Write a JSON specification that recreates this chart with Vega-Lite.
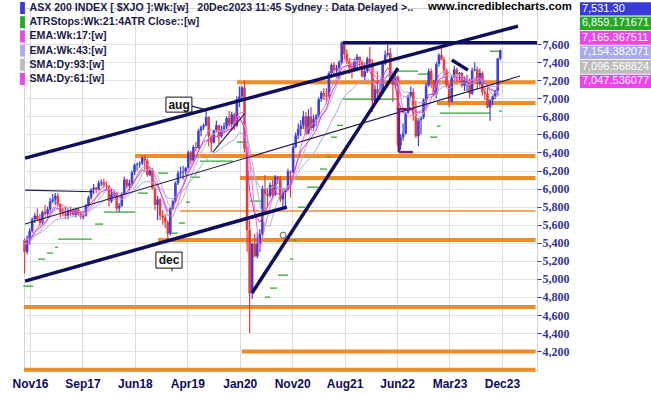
{
"$schema": "https://vega.github.io/schema/vega-lite/v6.json",
"width": 513,
"height": 363,
"autosize": {"type": "none"},
"padding": {"left": 24, "top": 8, "right": 114, "bottom": 24},
"background": "#ffffff",
"config": {"view": {"stroke": "#d4d4d4", "strokeWidth": 1}},
"resolve": {"axis": {"x": "independent", "y": "independent"}},
"datasets": {
"candles": [
{"d":"2016-10-31","o":5430,"h":5450,"l":5060,"c":5300},
{"d":"2016-11-14","o":5300,"h":5480,"l":5270,"c":5440},
{"d":"2016-11-28","o":5440,"h":5560,"l":5380,"c":5530},
{"d":"2016-12-12","o":5530,"h":5680,"l":5510,"c":5660},
{"d":"2016-12-26","o":5660,"h":5730,"l":5620,"c":5700},
{"d":"2017-01-09","o":5700,"h":5780,"l":5640,"c":5660},
{"d":"2017-01-23","o":5660,"h":5720,"l":5580,"c":5620},
{"d":"2017-02-06","o":5620,"h":5760,"l":5600,"c":5740},
{"d":"2017-02-20","o":5740,"h":5820,"l":5700,"c":5720},
{"d":"2017-03-06","o":5720,"h":5800,"l":5680,"c":5770},
{"d":"2017-03-20","o":5770,"h":5900,"l":5740,"c":5860},
{"d":"2017-04-03","o":5860,"h":5940,"l":5840,"c":5880},
{"d":"2017-04-17","o":5880,"h":5950,"l":5820,"c":5920},
{"d":"2017-05-01","o":5920,"h":5950,"l":5800,"c":5830},
{"d":"2017-05-15","o":5830,"h":5840,"l":5680,"c":5740},
{"d":"2017-05-29","o":5740,"h":5800,"l":5690,"c":5720},
{"d":"2017-06-12","o":5720,"h":5800,"l":5660,"c":5700},
{"d":"2017-06-26","o":5700,"h":5780,"l":5660,"c":5760},
{"d":"2017-07-10","o":5760,"h":5800,"l":5700,"c":5740},
{"d":"2017-07-24","o":5740,"h":5780,"l":5700,"c":5710},
{"d":"2017-08-07","o":5710,"h":5790,"l":5680,"c":5770},
{"d":"2017-08-21","o":5770,"h":5790,"l":5700,"c":5720},
{"d":"2017-09-04","o":5720,"h":5750,"l":5660,"c":5690},
{"d":"2017-09-18","o":5690,"h":5720,"l":5660,"c":5700},
{"d":"2017-10-02","o":5700,"h":5830,"l":5690,"c":5810},
{"d":"2017-10-16","o":5810,"h":5920,"l":5800,"c":5900},
{"d":"2017-10-30","o":5900,"h":6000,"l":5880,"c":5990},
{"d":"2017-11-13","o":5990,"h":6050,"l":5940,"c":6010},
{"d":"2017-11-27","o":6010,"h":6020,"l":5950,"c":5990},
{"d":"2017-12-11","o":5990,"h":6090,"l":5980,"c":6060},
{"d":"2017-12-25","o":6060,"h":6100,"l":6030,"c":6070},
{"d":"2018-01-08","o":6070,"h":6110,"l":6020,"c":6040},
{"d":"2018-01-22","o":6040,"h":6080,"l":5980,"c":6030},
{"d":"2018-02-05","o":6030,"h":6040,"l":5800,"c":5860},
{"d":"2018-02-19","o":5860,"h":6000,"l":5840,"c":5940},
{"d":"2018-03-05","o":5940,"h":5980,"l":5890,"c":5950},
{"d":"2018-03-19","o":5950,"h":5960,"l":5750,"c":5780},
{"d":"2018-04-02","o":5780,"h":5840,"l":5740,"c":5810},
{"d":"2018-04-16","o":5810,"h":5960,"l":5800,"c":5940},
{"d":"2018-04-30","o":5940,"h":6130,"l":5930,"c":6100},
{"d":"2018-05-14","o":6100,"h":6110,"l":6000,"c":6030},
{"d":"2018-05-28","o":6030,"h":6100,"l":5980,"c":6060},
{"d":"2018-06-11","o":6060,"h":6200,"l":6040,"c":6180},
{"d":"2018-06-25","o":6180,"h":6280,"l":6150,"c":6260},
{"d":"2018-07-09","o":6260,"h":6290,"l":6200,"c":6270},
{"d":"2018-07-23","o":6270,"h":6300,"l":6230,"c":6280},
{"d":"2018-08-06","o":6280,"h":6360,"l":6260,"c":6340},
{"d":"2018-08-20","o":6340,"h":6370,"l":6210,"c":6310},
{"d":"2018-09-03","o":6310,"h":6330,"l":6130,"c":6150},
{"d":"2018-09-17","o":6150,"h":6240,"l":6140,"c":6200},
{"d":"2018-10-01","o":6200,"h":6230,"l":5990,"c":6000},
{"d":"2018-10-15","o":6000,"h":6020,"l":5760,"c":5820},
{"d":"2018-10-29","o":5820,"h":5920,"l":5650,"c":5880},
{"d":"2018-11-12","o":5880,"h":5900,"l":5650,"c":5700},
{"d":"2018-11-26","o":5700,"h":5760,"l":5600,"c":5680},
{"d":"2018-12-10","o":5680,"h":5720,"l":5560,"c":5630},
{"d":"2018-12-24","o":5630,"h":5650,"l":5410,"c":5500},
{"d":"2019-01-07","o":5500,"h":5800,"l":5480,"c":5780},
{"d":"2019-01-21","o":5780,"h":5880,"l":5760,"c":5860},
{"d":"2019-02-04","o":5860,"h":6080,"l":5840,"c":6060},
{"d":"2019-02-18","o":6060,"h":6200,"l":6040,"c":6170},
{"d":"2019-03-04","o":6170,"h":6240,"l":6130,"c":6180},
{"d":"2019-03-18","o":6180,"h":6250,"l":6100,"c":6190},
{"d":"2019-04-01","o":6190,"h":6240,"l":6150,"c":6230},
{"d":"2019-04-15","o":6230,"h":6420,"l":6220,"c":6400},
{"d":"2019-04-29","o":6400,"h":6420,"l":6270,"c":6310},
{"d":"2019-05-13","o":6310,"h":6480,"l":6290,"c":6460},
{"d":"2019-05-27","o":6460,"h":6520,"l":6410,"c":6450},
{"d":"2019-06-10","o":6450,"h":6660,"l":6440,"c":6640},
{"d":"2019-06-24","o":6640,"h":6700,"l":6580,"c":6680},
{"d":"2019-07-08","o":6680,"h":6720,"l":6650,"c":6700},
{"d":"2019-07-22","o":6700,"h":6880,"l":6690,"c":6790},
{"d":"2019-08-05","o":6790,"h":6800,"l":6470,"c":6580},
{"d":"2019-08-19","o":6580,"h":6600,"l":6400,"c":6510},
{"d":"2019-09-02","o":6510,"h":6650,"l":6500,"c":6640},
{"d":"2019-09-16","o":6640,"h":6750,"l":6620,"c":6700},
{"d":"2019-09-30","o":6700,"h":6710,"l":6490,"c":6580},
{"d":"2019-10-14","o":6580,"h":6700,"l":6560,"c":6660},
{"d":"2019-10-28","o":6660,"h":6730,"l":6620,"c":6690},
{"d":"2019-11-11","o":6690,"h":6800,"l":6660,"c":6780},
{"d":"2019-11-25","o":6780,"h":6860,"l":6690,"c":6710},
{"d":"2019-12-09","o":6710,"h":6850,"l":6640,"c":6820},
{"d":"2019-12-23","o":6820,"h":6840,"l":6650,"c":6700},
{"d":"2020-01-06","o":6700,"h":7020,"l":6680,"c":6990},
{"d":"2020-01-20","o":6990,"h":7130,"l":6900,"c":7020},
{"d":"2020-02-03","o":7020,"h":7140,"l":6960,"c":7120},
{"d":"2020-02-17","o":7120,"h":7200,"l":6400,"c":6440},
{"d":"2020-03-02","o":6440,"h":6470,"l":5300,"c":5540},
{"d":"2020-03-16","o":5540,"h":5650,"l":4400,"c":4840},
{"d":"2020-03-30","o":4840,"h":5400,"l":4780,"c":5390},
{"d":"2020-04-13","o":5390,"h":5500,"l":5240,"c":5250},
{"d":"2020-04-27","o":5250,"h":5520,"l":5230,"c":5390},
{"d":"2020-05-11","o":5390,"h":5550,"l":5300,"c":5500},
{"d":"2020-05-25","o":5500,"h":6030,"l":5480,"c":6000},
{"d":"2020-06-08","o":6000,"h":6150,"l":5750,"c":5940},
{"d":"2020-06-22","o":5940,"h":6000,"l":5790,"c":5920},
{"d":"2020-07-06","o":5920,"h":6070,"l":5900,"c":6040},
{"d":"2020-07-20","o":6040,"h":6100,"l":5900,"c":5930},
{"d":"2020-08-03","o":5930,"h":6150,"l":5920,"c":6130},
{"d":"2020-08-17","o":6130,"h":6140,"l":6050,"c":6110},
{"d":"2020-08-31","o":6110,"h":6140,"l":5850,"c":5880},
{"d":"2020-09-14","o":5880,"h":5990,"l":5800,"c":5960},
{"d":"2020-09-28","o":5960,"h":6000,"l":5770,"c":5990},
{"d":"2020-10-12","o":5990,"h":6220,"l":5980,"c":6190},
{"d":"2020-10-26","o":6190,"h":6200,"l":5900,"c":6180},
{"d":"2020-11-09","o":6180,"h":6500,"l":6170,"c":6460},
{"d":"2020-11-23","o":6460,"h":6620,"l":6450,"c":6590},
{"d":"2020-12-07","o":6590,"h":6720,"l":6550,"c":6660},
{"d":"2020-12-21","o":6660,"h":6760,"l":6580,"c":6700},
{"d":"2021-01-04","o":6700,"h":6860,"l":6660,"c":6800},
{"d":"2021-01-18","o":6800,"h":6850,"l":6590,"c":6610},
{"d":"2021-02-01","o":6610,"h":6880,"l":6600,"c":6800},
{"d":"2021-02-15","o":6800,"h":6900,"l":6640,"c":6670},
{"d":"2021-03-01","o":6670,"h":6820,"l":6640,"c":6770},
{"d":"2021-03-15","o":6770,"h":6830,"l":6690,"c":6800},
{"d":"2021-03-29","o":6800,"h":7010,"l":6780,"c":6990},
{"d":"2021-04-12","o":6990,"h":7080,"l":6960,"c":7060},
{"d":"2021-04-26","o":7060,"h":7110,"l":6980,"c":7030},
{"d":"2021-05-10","o":7030,"h":7110,"l":6940,"c":7020},
{"d":"2021-05-24","o":7020,"h":7300,"l":7000,"c":7280},
{"d":"2021-06-07","o":7280,"h":7390,"l":7260,"c":7370},
{"d":"2021-06-21","o":7370,"h":7400,"l":7250,"c":7310},
{"d":"2021-07-05","o":7310,"h":7370,"l":7220,"c":7330},
{"d":"2021-07-19","o":7330,"h":7420,"l":7210,"c":7400},
{"d":"2021-08-02","o":7400,"h":7630,"l":7380,"c":7620},
{"d":"2021-08-16","o":7620,"h":7630,"l":7430,"c":7490},
{"d":"2021-08-30","o":7490,"h":7540,"l":7380,"c":7410},
{"d":"2021-09-13","o":7410,"h":7450,"l":7270,"c":7340},
{"d":"2021-09-27","o":7340,"h":7390,"l":7220,"c":7320},
{"d":"2021-10-11","o":7320,"h":7440,"l":7300,"c":7410},
{"d":"2021-10-25","o":7410,"h":7490,"l":7300,"c":7460},
{"d":"2021-11-08","o":7460,"h":7460,"l":7350,"c":7400},
{"d":"2021-11-22","o":7400,"h":7420,"l":7230,"c":7240},
{"d":"2021-12-06","o":7240,"h":7400,"l":7200,"c":7300},
{"d":"2021-12-20","o":7300,"h":7460,"l":7280,"c":7440},
{"d":"2022-01-03","o":7440,"h":7570,"l":7330,"c":7390},
{"d":"2022-01-17","o":7390,"h":7430,"l":6850,"c":6970},
{"d":"2022-01-31","o":6970,"h":7150,"l":6950,"c":7100},
{"d":"2022-02-14","o":7100,"h":7300,"l":6990,"c":7050},
{"d":"2022-02-28","o":7050,"h":7160,"l":6980,"c":7060},
{"d":"2022-03-14","o":7060,"h":7400,"l":7040,"c":7380},
{"d":"2022-03-28","o":7380,"h":7530,"l":7370,"c":7480},
{"d":"2022-04-11","o":7480,"h":7600,"l":7460,"c":7500},
{"d":"2022-04-25","o":7500,"h":7560,"l":7180,"c":7210},
{"d":"2022-05-09","o":7210,"h":7250,"l":6960,"c":7150},
{"d":"2022-05-23","o":7150,"h":7260,"l":7100,"c":7240},
{"d":"2022-06-06","o":7240,"h":7250,"l":6470,"c":6480},
{"d":"2022-06-20","o":6480,"h":6600,"l":6430,"c":6570},
{"d":"2022-07-04","o":6570,"h":6720,"l":6530,"c":6610},
{"d":"2022-07-18","o":6610,"h":6850,"l":6600,"c":6840},
{"d":"2022-08-01","o":6840,"h":7040,"l":6830,"c":7030},
{"d":"2022-08-15","o":7030,"h":7130,"l":7010,"c":7070},
{"d":"2022-08-29","o":7070,"h":7110,"l":6750,"c":6830},
{"d":"2022-09-12","o":6830,"h":6970,"l":6560,"c":6580},
{"d":"2022-09-26","o":6580,"h":6780,"l":6470,"c":6760},
{"d":"2022-10-10","o":6760,"h":6800,"l":6600,"c":6790},
{"d":"2022-10-24","o":6790,"h":7000,"l":6770,"c":6980},
{"d":"2022-11-07","o":6980,"h":7170,"l":6880,"c":7140},
{"d":"2022-11-21","o":7140,"h":7330,"l":7130,"c":7300},
{"d":"2022-12-05","o":7300,"h":7330,"l":7120,"c":7200},
{"d":"2022-12-19","o":7200,"h":7200,"l":7020,"c":7040},
{"d":"2023-01-02","o":7040,"h":7400,"l":7000,"c":7380},
{"d":"2023-01-16","o":7380,"h":7500,"l":7350,"c":7480},
{"d":"2023-01-30","o":7480,"h":7560,"l":7420,"c":7430},
{"d":"2023-02-13","o":7430,"h":7460,"l":7250,"c":7310},
{"d":"2023-02-27","o":7310,"h":7330,"l":7120,"c":7140},
{"d":"2023-03-13","o":7140,"h":7160,"l":6900,"c":6960},
{"d":"2023-03-27","o":6960,"h":7250,"l":6950,"c":7230},
{"d":"2023-04-10","o":7230,"h":7360,"l":7220,"c":7320},
{"d":"2023-04-24","o":7320,"h":7340,"l":7180,"c":7260},
{"d":"2023-05-08","o":7260,"h":7290,"l":7180,"c":7280},
{"d":"2023-05-22","o":7280,"h":7290,"l":7120,"c":7140},
{"d":"2023-06-05","o":7140,"h":7240,"l":7080,"c":7200},
{"d":"2023-06-19","o":7200,"h":7260,"l":7080,"c":7200},
{"d":"2023-07-03","o":7200,"h":7220,"l":7000,"c":7050},
{"d":"2023-07-17","o":7050,"h":7340,"l":7040,"c":7310},
{"d":"2023-07-31","o":7310,"h":7400,"l":7300,"c":7320},
{"d":"2023-08-14","o":7320,"h":7350,"l":7100,"c":7160},
{"d":"2023-08-28","o":7160,"h":7330,"l":7130,"c":7280},
{"d":"2023-09-11","o":7280,"h":7300,"l":7030,"c":7070},
{"d":"2023-09-25","o":7070,"h":7120,"l":6980,"c":7050},
{"d":"2023-10-09","o":7050,"h":7120,"l":6890,"c":6900},
{"d":"2023-10-23","o":6900,"h":6990,"l":6750,"c":6980},
{"d":"2023-11-06","o":6980,"h":7030,"l":6920,"c":7020},
{"d":"2023-11-20","o":7020,"h":7090,"l":6990,"c":7080},
{"d":"2023-12-04","o":7080,"h":7450,"l":7040,"c":7440},
{"d":"2023-12-18","o":7440,"h":7540,"l":7420,"c":7531}
],
"ma": [
{"d":"2016-10-31","e17":5362,"e43":5424,"s93":5389,"s61":5383},
{"d":"2016-11-28","e17":5425,"e43":5442,"s93":5408,"s61":5412},
{"d":"2016-12-26","e17":5528,"e43":5486,"s93":5470,"s61":5505},
{"d":"2017-01-23","e17":5563,"e43":5509,"s93":5523,"s61":5602},
{"d":"2017-02-20","e17":5622,"e43":5545,"s93":5597,"s61":5683},
{"d":"2017-03-20","e17":5711,"e43":5599,"s93":5696,"s61":5728},
{"d":"2017-04-17","e17":5789,"e43":5654,"s93":5763,"s61":5815},
{"d":"2017-05-15","e17":5771,"e43":5669,"s93":5787,"s61":5833},
{"d":"2017-06-12","e17":5744,"e43":5674,"s93":5793,"s61":5798},
{"d":"2017-07-10","e17":5743,"e43":5685,"s93":5794,"s61":5748},
{"d":"2017-08-07","e17":5753,"e43":5699,"s93":5766,"s61":5733},
{"d":"2017-09-04","e17":5729,"e43":5697,"s93":5728,"s61":5732},
{"d":"2017-10-02","e17":5759,"e43":5716,"s93":5733,"s61":5733},
{"d":"2017-10-30","e17":5846,"e43":5763,"s93":5781,"s61":5802},
{"d":"2017-11-27","e17":5900,"e43":5802,"s93":5842,"s61":5900},
{"d":"2017-12-25","e17":5964,"e43":5848,"s93":5913,"s61":6003},
{"d":"2018-01-22","e17":5989,"e43":5879,"s93":5989,"s61":6033},
{"d":"2018-02-19","e17":5971,"e43":5889,"s93":5999,"s61":6000},
{"d":"2018-03-19","e17":5899,"e43":5870,"s93":5969,"s61":5933},
{"d":"2018-04-16","e17":5914,"e43":5882,"s93":5936,"s61":5880},
{"d":"2018-05-14","e17":5958,"e43":5907,"s93":5938,"s61":5935},
{"d":"2018-06-11","e17":6041,"e43":5953,"s93":5977,"s61":6020},
{"d":"2018-07-09","e17":6127,"e43":6007,"s93":6048,"s61":6150},
{"d":"2018-08-06","e17":6207,"e43":6064,"s93":6162,"s61":6232},
{"d":"2018-09-03","e17":6186,"e43":6079,"s93":6209,"s61":6268},
{"d":"2018-10-01","e17":6116,"e43":6066,"s93":6221,"s61":6213},
{"d":"2018-10-29","e17":6028,"e43":6034,"s93":6139,"s61":6060},
{"d":"2018-11-26","e17":5898,"e43":5974,"s93":6009,"s61":5880},
{"d":"2018-12-24","e17":5749,"e43":5893,"s93":5840,"s61":5702},
{"d":"2019-01-21","e17":5791,"e43":5887,"s93":5761,"s61":5692},
{"d":"2019-02-18","e17":5933,"e43":5935,"s93":5807,"s61":5833},
{"d":"2019-03-18","e17":6029,"e43":5978,"s93":5894,"s61":6040},
{"d":"2019-04-15","e17":6168,"e43":6050,"s93":6041,"s61":6205},
{"d":"2019-05-13","e17":6278,"e43":6120,"s93":6207,"s61":6295},
{"d":"2019-06-10","e17":6414,"e43":6208,"s93":6337,"s61":6415},
{"d":"2019-07-08","e17":6521,"e43":6292,"s93":6451,"s61":6540},
{"d":"2019-08-05","e17":6543,"e43":6341,"s93":6557,"s61":6640},
{"d":"2019-09-02","e17":6579,"e43":6392,"s93":6606,"s61":6650},
{"d":"2019-09-30","e17":6579,"e43":6424,"s93":6647,"s61":6633},
{"d":"2019-10-28","e17":6621,"e43":6469,"s93":6650,"s61":6630},
{"d":"2019-11-25","e17":6654,"e43":6510,"s93":6650,"s61":6687},
{"d":"2019-12-23","e17":6671,"e43":6542,"s93":6698,"s61":6727},
{"d":"2020-01-20","e17":6802,"e43":6623,"s93":6772,"s61":6837},
{"d":"2020-02-17","e17":6666,"e43":6592,"s93":6697,"s61":6848},
{"d":"2020-03-16","e17":5981,"e43":6294,"s93":6464,"s61":6325},
{"d":"2020-04-13","e17":5707,"e43":6117,"s93":6143,"s61":5763},
{"d":"2020-05-11","e17":5629,"e43":6012,"s93":5832,"s61":5318},
{"d":"2020-06-08","e17":5746,"e43":6000,"s93":5588,"s61":5578},
{"d":"2020-07-06","e17":5856,"e43":6007,"s93":5586,"s61":5798},
{"d":"2020-08-03","e17":5959,"e43":6028,"s93":5789,"s61":5993},
{"d":"2020-08-31","e17":5929,"e43":6003,"s93":5939,"s61":6002},
{"d":"2020-09-28","e17":5952,"e43":6001,"s93":5989,"s61":6000},
{"d":"2020-10-26","e17":6038,"e43":6031,"s93":6047,"s61":6052},
{"d":"2020-11-23","e17":6245,"e43":6126,"s93":6166,"s61":6228},
{"d":"2020-12-21","e17":6416,"e43":6224,"s93":6290,"s61":6463},
{"d":"2021-01-18","e17":6489,"e43":6290,"s93":6464,"s61":6637},
{"d":"2021-02-15","e17":6557,"e43":6355,"s93":6608,"s61":6707},
{"d":"2021-03-15","e17":6648,"e43":6431,"s93":6711,"s61":6742},
{"d":"2021-04-12","e17":6803,"e43":6538,"s93":6800,"s61":6848},
{"d":"2021-05-10","e17":6884,"e43":6620,"s93":6861,"s61":6945},
{"d":"2021-06-07","e17":7066,"e43":6748,"s93":6999,"s61":7125},
{"d":"2021-07-05","e17":7165,"e43":6847,"s93":7132,"s61":7223},
{"d":"2021-08-02","e17":7336,"e43":6978,"s93":7269,"s61":7385},
{"d":"2021-08-30","e17":7364,"e43":7051,"s93":7359,"s61":7427},
{"d":"2021-09-27","e17":7348,"e43":7097,"s93":7399,"s61":7430},
{"d":"2021-10-25","e17":7390,"e43":7159,"s93":7420,"s61":7405},
{"d":"2021-11-22","e17":7334,"e43":7173,"s93":7410,"s61":7362},
{"d":"2021-12-20","e17":7374,"e43":7218,"s93":7369,"s61":7375},
{"d":"2022-01-17","e17":7223,"e43":7176,"s93":7326,"s61":7290},
{"d":"2022-02-14","e17":7158,"e43":7155,"s93":7261,"s61":7208},
{"d":"2022-03-14","e17":7241,"e43":7193,"s93":7214,"s61":7158},
{"d":"2022-04-11","e17":7338,"e43":7245,"s93":7263,"s61":7262},
{"d":"2022-05-09","e17":7268,"e43":7229,"s93":7211,"s61":7297},
{"d":"2022-06-06","e17":6973,"e43":7102,"s93":7172,"s61":7177},
{"d":"2022-07-04","e17":6837,"e43":7018,"s93":7069,"s61":6877},
{"d":"2022-08-01","e17":6909,"e43":7020,"s93":7070,"s61":6795},
{"d":"2022-08-29","e17":6879,"e43":6988,"s93":6869,"s61":6825},
{"d":"2022-09-26","e17":6834,"e43":6949,"s93":6752,"s61":6852},
{"d":"2022-10-24","e17":6889,"e43":6954,"s93":6832,"s61":6835},
{"d":"2022-11-21","e17":7043,"e43":7013,"s93":6942,"s61":6925},
{"d":"2022-12-19","e17":7042,"e43":7018,"s93":6958,"s61":7075},
{"d":"2023-01-16","e17":7206,"e43":7097,"s93":7119,"s61":7257},
{"d":"2023-02-13","e17":7245,"e43":7133,"s93":7251,"s61":7307},
{"d":"2023-03-13","e17":7138,"e43":7104,"s93":7249,"s61":7283},
{"d":"2023-04-10","e17":7206,"e43":7141,"s93":7254,"s61":7232},
{"d":"2023-05-08","e17":7234,"e43":7165,"s93":7268,"s61":7198},
{"d":"2023-06-05","e17":7221,"e43":7171,"s93":7204,"s61":7238},
{"d":"2023-07-03","e17":7157,"e43":7150,"s93":7182,"s61":7188},
{"d":"2023-07-31","e17":7218,"e43":7179,"s93":7231,"s61":7203},
{"d":"2023-08-28","e17":7241,"e43":7196,"s93":7216,"s61":7220},
{"d":"2023-09-25","e17":7169,"e43":7171,"s93":7182,"s61":7198},
{"d":"2023-10-23","e17":7098,"e43":7139,"s93":7124,"s61":7073},
{"d":"2023-11-20","e17":7080,"e43":7130,"s93":7060,"s61":7010},
{"d":"2023-12-18","e17":7165,"e43":7154,"s93":7097,"s61":7048}
],
"atr": [
{"d1":"2016-10-23","d2":"2016-12-16","v":4920},
{"d1":"2017-01-13","d2":"2017-02-20","v":5219},
{"d1":"2017-03-03","d2":"2017-04-05","v":5286},
{"d1":"2017-04-16","d2":"2017-05-02","v":5350},
{"d1":"2017-05-02","d2":"2017-11-04","v":5441},
{"d1":"2017-11-21","d2":"2018-01-04","v":5607},
{"d1":"2018-01-09","d2":"2018-06-28","v":5740},
{"d1":"2018-07-14","d2":"2018-09-07","v":5950},
{"d1":"2018-10-31","d2":"2018-12-25","v":6171},
{"d1":"2019-01-16","d2":"2019-02-18","v":5507},
{"d1":"2019-02-23","d2":"2019-03-28","v":5618},
{"d1":"2019-04-02","d2":"2019-04-25","v":5850},
{"d1":"2019-04-25","d2":"2019-06-18","v":6127},
{"d1":"2019-06-18","d2":"2019-12-16","v":6304},
{"d1":"2020-01-07","d2":"2020-03-07","v":6515},
{"d1":"2020-03-18","d2":"2020-05-28","v":5861},
{"d1":"2020-06-08","d2":"2020-07-05","v":4798},
{"d1":"2020-07-05","d2":"2020-08-13","v":4898},
{"d1":"2020-08-18","d2":"2020-10-12","v":5042},
{"d1":"2020-10-23","d2":"2020-11-08","v":5219},
{"d1":"2020-11-08","d2":"2020-12-01","v":5430},
{"d1":"2020-12-06","d2":"2021-01-13","v":5795},
{"d1":"2021-01-24","d2":"2021-03-25","v":6016},
{"d1":"2021-04-05","d2":"2021-05-13","v":6216},
{"d1":"2021-05-13","d2":"2021-06-04","v":6349},
{"d1":"2021-06-04","d2":"2021-07-07","v":6570},
{"d1":"2021-07-07","d2":"2021-08-09","v":6700},
{"d1":"2021-08-09","d2":"2022-05-31","v":6991},
{"d1":"2022-06-06","d2":"2022-09-23","v":7301},
{"d1":"2022-09-23","d2":"2022-11-28","v":7268},
{"d1":"2022-11-28","d2":"2023-01-08","v":6570},
{"d1":"2023-01-05","d2":"2023-01-25","v":6692},
{"d1":"2023-01-22","d2":"2023-10-22","v":6836},
{"d1":"2023-10-22","d2":"2023-12-16","v":7522},
{"d1":"2023-12-12","d2":"2023-12-27","v":6858}
],
"orThick": [
{"d1":"2020-01-07","d2":"2024-06-28","v":7179},
{"d1":"2023-01-05","d2":"2024-06-28","v":6947},
{"d1":"2018-06-28","d2":"2024-06-28","v":6360},
{"d1":"2020-01-23","d2":"2024-06-28","v":6116},
{"d1":"2018-10-31","d2":"2024-06-28","v":5430},
{"d1":"2016-10-28","d2":"2024-06-28","v":4688},
{"d1":"2020-02-03","d2":"2024-06-28","v":4195},
{"d1":"2016-10-28","d2":"2024-06-28","v":3995}
],
"orThin": [
{"d1":"2019-03-01","d2":"2024-06-28","v":5751}
],
"navyThick": [
{"d1":"2016-11-03","v1":6338,"d2":"2024-03-24","v2":7799},
{"d1":"2016-11-03","v1":4975,"d2":"2020-10-06","v2":5795},
{"d1":"2020-03-29","v1":4843,"d2":"2022-06-06","v2":7334},
{"d1":"2021-08-09","v1":7615,"d2":"2024-07-06","v2":7615},
{"d1":"2023-03-28","v1":7423,"d2":"2023-06-24","v2":7312}
],
"navyThin": [
{"d1":"2016-11-03","v1":5607,"d2":"2024-04-04","v2":7246},
{"d1":"2016-11-03","v1":5983,"d2":"2017-11-10","v2":5965},
{"d1":"2019-08-28","v1":6404,"d2":"2020-02-20","v2":6836},
{"d1":"2019-05-05","v1":6913,"d2":"2019-07-26","v2":6869},
{"d1":"2019-01-16","v1":5119,"d2":"2019-01-16","v2":5086}
],
"purple": [
{"d1":"2022-05-31","v1":6880,"d2":"2022-08-27","v2":6880},
{"d1":"2022-06-11","v1":6880,"d2":"2022-06-11","v2":6404},
{"d1":"2022-06-11","v1":6404,"d2":"2022-08-27","v2":6404}
],
"notes": [
{"t":"aug","d1":"2018-12-14","d2":"2019-05-05","v1":7013,"v2":6847,"dm":"2019-02-24","vm":6930},
{"t":"dec","d1":"2018-10-20","d2":"2019-03-12","v1":5297,"v2":5119,"dm":"2018-12-31","vm":5208}
],
"marker": [
{"d":"2020-09-15","v":5485}
],
"values": [
{"k":"px","t":"7,531.30","x1":"2025-02-26","x2":"2026-06-01","v1":8065,"v2":7916,"vm":7990},
{"k":"atr","t":"6,859.171671","x1":"2025-02-26","x2":"2026-06-01","v1":7905,"v2":7755,"vm":7830},
{"k":"e17","t":"7,165.367511","x1":"2025-02-26","x2":"2026-06-01","v1":7744,"v2":7594,"vm":7669},
{"k":"e43","t":"7,154.382071","x1":"2025-02-26","x2":"2026-06-01","v1":7583,"v2":7434,"vm":7508},
{"k":"s93","t":"7,096.568824","x1":"2025-02-26","x2":"2026-06-01","v1":7423,"v2":7273,"vm":7348},
{"k":"s61","t":"7,047.536077","x1":"2025-02-26","x2":"2026-06-01","v1":7262,"v2":7113,"vm":7187}
],
"site": [
{"t":"www.incrediblecharts.com","d":"2025-01-13","v":8010}
]
},
"layer": [
{
"data": {"name": "orThick"},
"mark": {"type": "rule", "color": "#f08c28", "strokeWidth": 4},
"encoding": {
"x": {"field": "d1", "type": "temporal",
"scale": {"type": "utc", "domain": [{"year": 2016, "month": 10, "date": 28, "utc": true}, {"year": 2024, "month": 7, "date": 6, "utc": true}]},
"axis": {"title": null, "labelExpr": "utcFormat(datum.value, '%b%y')",
"values": [{"year": 2016, "month": 11, "date": 30, "utc": true}, {"year": 2017, "month": 9, "date": 13, "utc": true}, {"year": 2018, "month": 6, "date": 27, "utc": true}, {"year": 2019, "month": 4, "date": 10, "utc": true}, {"year": 2020, "month": 1, "date": 22, "utc": true}, {"year": 2020, "month": 11, "date": 4, "utc": true}, {"year": 2021, "month": 8, "date": 18, "utc": true}, {"year": 2022, "month": 6, "date": 1, "utc": true}, {"year": 2023, "month": 3, "date": 15, "utc": true}, {"year": 2023, "month": 12, "date": 27, "utc": true}],
"grid": true, "gridColor": "#dcdcdc", "gridWidth": 1, "ticks": false, "domain": false,
"labelFont": "Liberation Sans Narrow, Liberation Sans", "labelFontWeight": "bold", "labelFontSize": 12, "labelColor": "#0c0c5a", "labelPadding": 7, "labelOverlap": false}},
"x2": {"field": "d2"},
"y": {"field": "v", "type": "quantitative",
"scale": {"domain": [3980, 8000], "nice": false, "zero": false},
"axis": {"title": null, "orient": "right", "values": [4200, 4400, 4600, 4800, 5000, 5200, 5400, 5600, 5800, 6000, 6200, 6400, 6600, 6800, 7000, 7200, 7400, 7600], "format": ",.0f",
"grid": true, "gridColor": "#e2e2e2", "gridWidth": 1, "ticks": true, "tickSize": 4, "tickColor": "#3535a5", "domain": false,
"labelFont": "Liberation Serif", "labelFontWeight": "bold", "labelFontSize": 12, "labelColor": "#34349c", "labelPadding": 1, "labelOverlap": false}}
}
},
{
"data": {"name": "orThin"},
"mark": {"type": "rule", "color": "#f08c28", "strokeWidth": 1.5},
"encoding": {"x": {"field": "d1", "type": "temporal", "axis": null}, "x2": {"field": "d2"}, "y": {"field": "v", "type": "quantitative", "axis": null}}
},
{
"data": {"name": "atr"},
"mark": {"type": "rule", "color": "#2eaa2e", "strokeWidth": 1.3},
"encoding": {"x": {"field": "d1", "type": "temporal", "axis": null}, "x2": {"field": "d2"}, "y": {"field": "v", "type": "quantitative", "axis": null}}
},
{
"data": {"name": "candles"},
"mark": {"type": "rule", "strokeWidth": 1.2},
"encoding": {"x": {"field": "d", "type": "temporal", "axis": null}, "y": {"field": "l", "type": "quantitative", "axis": null}, "y2": {"field": "h"},
"color": {"condition": {"test": "datum.c < datum.o", "value": "#e63c3c"}, "value": "#4040d8"}}
},
{
"data": {"name": "candles"},
"mark": {"type": "rule", "strokeWidth": 2.6},
"encoding": {"x": {"field": "d", "type": "temporal", "axis": null}, "y": {"field": "o", "type": "quantitative", "axis": null}, "y2": {"field": "c"},
"color": {"condition": {"test": "datum.c < datum.o", "value": "#e63c3c"}, "value": "#4040d8"}}
},
{
"data": {"name": "ma"},
"mark": {"type": "line", "color": "#b8b8b8", "strokeWidth": 1},
"encoding": {"x": {"field": "d", "type": "temporal", "axis": null}, "y": {"field": "s93", "type": "quantitative", "axis": null}}
},
{
"data": {"name": "ma"},
"mark": {"type": "line", "color": "#a8a8ec", "strokeWidth": 1},
"encoding": {"x": {"field": "d", "type": "temporal", "axis": null}, "y": {"field": "e43", "type": "quantitative", "axis": null}}
},
{
"data": {"name": "ma"},
"mark": {"type": "line", "color": "#f070d8", "strokeWidth": 1},
"encoding": {"x": {"field": "d", "type": "temporal", "axis": null}, "y": {"field": "s61", "type": "quantitative", "axis": null}}
},
{
"data": {"name": "ma"},
"mark": {"type": "line", "color": "#dd33dd", "strokeWidth": 1},
"encoding": {"x": {"field": "d", "type": "temporal", "axis": null}, "y": {"field": "e17", "type": "quantitative", "axis": null}}
},
{
"data": {"name": "navyThick"},
"mark": {"type": "rule", "color": "#0e0e5e", "strokeWidth": 3.5},
"encoding": {"x": {"field": "d1", "type": "temporal", "axis": null}, "x2": {"field": "d2"}, "y": {"field": "v1", "type": "quantitative", "axis": null}, "y2": {"field": "v2"}}
},
{
"data": {"name": "navyThin"},
"mark": {"type": "rule", "color": "#1c1c4c", "strokeWidth": 1.1},
"encoding": {"x": {"field": "d1", "type": "temporal", "axis": null}, "x2": {"field": "d2"}, "y": {"field": "v1", "type": "quantitative", "axis": null}, "y2": {"field": "v2"}}
},
{
"data": {"name": "purple"},
"mark": {"type": "rule", "color": "#6e1e7e", "strokeWidth": 2.5},
"encoding": {"x": {"field": "d1", "type": "temporal", "axis": null}, "x2": {"field": "d2"}, "y": {"field": "v1", "type": "quantitative", "axis": null}, "y2": {"field": "v2"}}
},
{
"data": {"name": "notes"},
"mark": {"type": "rect", "fill": "#ffffff", "stroke": "#111111", "strokeWidth": 1},
"encoding": {"x": {"field": "d1", "type": "temporal", "axis": null}, "x2": {"field": "d2"}, "y": {"field": "v1", "type": "quantitative", "axis": null}, "y2": {"field": "v2"}}
},
{
"data": {"name": "notes"},
"mark": {"type": "text", "font": "Liberation Sans", "fontWeight": "bold", "fontSize": 12, "color": "#111111", "align": "center", "baseline": "middle"},
"encoding": {"x": {"field": "dm", "type": "temporal", "axis": null}, "y": {"field": "vm", "type": "quantitative", "axis": null}, "text": {"field": "t"}}
},
{
"data": {"name": "marker"},
"mark": {"type": "point", "shape": "circle", "filled": false, "size": 36, "color": "#222222", "strokeWidth": 1},
"encoding": {"x": {"field": "d", "type": "temporal", "axis": null}, "y": {"field": "v", "type": "quantitative", "axis": null}}
},
{
"data": {"name": "values"},
"mark": {"type": "rect"},
"encoding": {"x": {"field": "x1", "type": "temporal", "axis": null}, "x2": {"field": "x2"}, "y": {"field": "v1", "type": "quantitative", "axis": null}, "y2": {"field": "v2"},
"color": {"field": "k", "type": "nominal",
"scale": {"domain": ["px", "atr", "e17", "e43", "s93", "s61"], "range": ["#3a3ad8", "#22aa22", "#ee44ee", "#aaaaee", "#bdbdbd", "#ee44ee"]},
"legend": {"title": null, "orient": "none", "legendX": -7.5, "legendY": -6, "direction": "vertical", "padding": 0,
"symbolType": "M-0.4,-1H0.4V1H-0.4Z", "symbolSize": 144, "symbolStrokeWidth": 0, "symbolOpacity": 1,
"labelFont": "Liberation Sans", "labelFontSize": 10.6, "labelFontWeight": "bold", "labelColor": "#1a1a48", "labelLimit": 600, "labelOffset": 1, "rowPadding": 2.2,
"labelExpr": "{'px':'ASX 200 INDEX [ $XJO ]:Wk:[w]\u00a0\u00a0 20Dec2023 11:45 Sydney : Data Delayed >..','atr':'ATRStops:Wk:21:4ATR Close::[w]','e17':'EMA:Wk:17:[w]','e43':'EMA:Wk:43:[w]','s93':'SMA:Dy:93:[w]','s61':'SMA:Dy:61:[w]'}[datum.value]"}}
}
},
{
"data": {"name": "values"},
"mark": {"type": "text", "font": "Liberation Sans", "fontSize": 11, "color": "#ffffff", "align": "left", "baseline": "middle", "dx": 2},
"encoding": {"x": {"field": "x1", "type": "temporal", "axis": null}, "y": {"field": "vm", "type": "quantitative", "axis": null}, "text": {"field": "t"}}
},
{
"data": {"name": "site"},
"mark": {"type": "text", "font": "Liberation Sans", "fontWeight": "bold", "fontSize": 11.4, "color": "#000000", "align": "right", "baseline": "middle"},
"encoding": {"x": {"field": "d", "type": "temporal", "axis": null}, "y": {"field": "v", "type": "quantitative", "axis": null}, "text": {"field": "t"}}
}
]
}
